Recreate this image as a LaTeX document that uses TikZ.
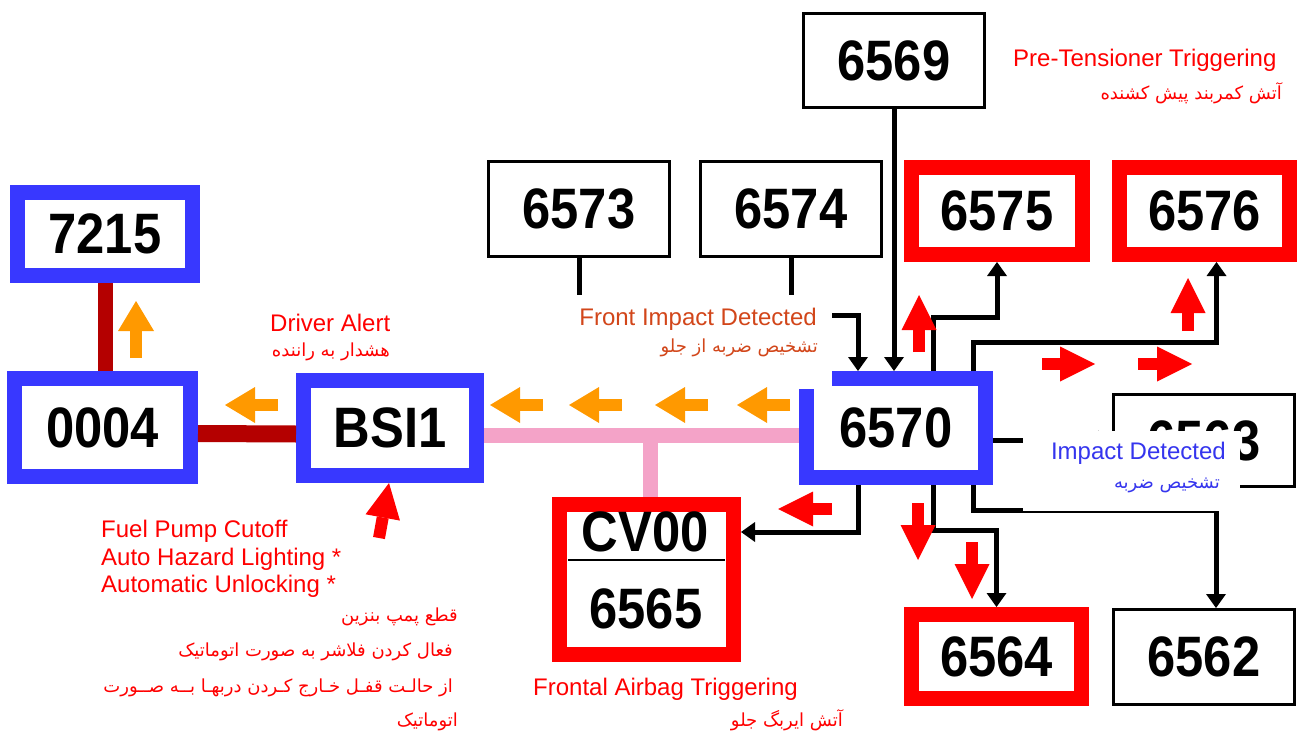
\documentclass[tikz,border=0pt]{standalone}
\usepackage{fontspec}
\setmainfont{Liberation Sans}
\newfontfamily\digitfont[FakeStretch=0.89]{Liberation Sans}
\newfontfamily\farsifont[Script=Arabic]{DejaVu Sans}
\TeXXeTstate=1
\usetikzlibrary{arrows.meta,positioning}
\definecolor{BoxBlue}{HTML}{3838FF}
\definecolor{BoxRed}{HTML}{FF0000}
\definecolor{DarkRed}{HTML}{B40000}
\definecolor{BusPink}{HTML}{F4A3C8}
\definecolor{ArrowOrange}{HTML}{FF9900}
\definecolor{ArrowRed}{HTML}{FF0000}
\definecolor{LabelRust}{HTML}{D2461A}
\definecolor{LabelBlue}{HTML}{3535EE}
\definecolor{TextRed}{HTML}{FF0000}
\tikzset{
  unit/.style={
    rectangle, fill=white, inner sep=0pt,
    font=\digitfont\bfseries\fontsize{57}{60}\selectfont
  },
  bluebox/.style={unit, draw=BoxBlue, line width=15pt},
  redbox/.style={unit, draw=BoxRed, line width=15pt},
  plainbox/.style={unit, draw=black, line width=3pt},
  bus/.style={line width=15pt},
  link/.style={draw=black, line width=5pt, -{Triangle[length=14pt,width=20pt,line width=0pt]}},
  stub/.style={draw=black, line width=5pt},
  mask/.style={rectangle, fill=white, inner sep=0pt},
  orangearrow/.style={draw=ArrowOrange, line width=12pt, -{Triangle[length=30pt,width=36pt,line width=0pt]}},
  redarrow/.style={draw=ArrowRed, line width=12pt, -{Triangle[length=35pt,width=35pt,line width=0pt]}},
  engtext/.style={inner sep=0pt, font=\fontsize{24}{27.5}\selectfont},
  fatext/.style={inner sep=0pt, font=\farsifont\fontsize{18}{21}\selectfont}
}
\begin{document}
\begin{tikzpicture}[x=1pt,y=-1pt]
  \useasboundingbox (0,0) rectangle (1301,733);
  \fill[white] (0,0) rectangle (1301,733);
  % modules
  \node[bluebox, minimum width=175pt, minimum height=83pt] (n7215) at (105,234) {7215};
  \node[bluebox, minimum width=176pt, minimum height=98pt] (n0004) at (102.5,427.5) {0004};
  \node[bluebox, minimum width=173pt, minimum height=95pt] (nBSI) at (390,428) {BSI1};
  \node[bluebox, minimum width=179pt, minimum height=99pt] (n6570) at (896,428) {6570};
  \node[plainbox, minimum width=181pt, minimum height=94pt] (n6569) at (894,60.5) {6569};
  \node[plainbox, minimum width=181pt, minimum height=95pt] (n6573) at (579,209) {6573};
  \node[plainbox, minimum width=181pt, minimum height=95pt] (n6574) at (791,209) {6574};
  \node[redbox, minimum width=171pt, minimum height=87pt] (n6575) at (997,211) {6575};
  \node[redbox, minimum width=170pt, minimum height=87pt] (n6576) at (1204.5,211) {6576};
  \node[plainbox, minimum width=181pt, minimum height=92pt] (n6563) at (1204,440.5) {6563};
  \node[redbox, minimum width=170pt, minimum height=84pt] (n6564) at (996.5,656.5) {6564};
  \node[plainbox, minimum width=181pt, minimum height=95pt] (n6562) at (1204,657) {6562};
  \node[redbox, minimum width=174pt, minimum height=150pt] (cvbox) at (646.5,579.5) {};
  \node[unit, fill=none] (cv00) at (645,532) {CV00};
  \node[unit, fill=none] (n6565) at (646,609) {6565};
  \draw[line width=2pt] (568,560) -- (725,560);
  % buses
  \draw[bus, draw=DarkRed] (n7215.south) -- (n7215.south |- n0004.north);
  \draw[bus, draw=DarkRed, line width=17pt] ([yshift=-6pt]n0004.east) -- ([yshift=-6pt]nBSI.west);
  \draw[bus, draw=BusPink] ([yshift=-7pt]nBSI.east) -- ([yshift=-7pt]n6570.west);
  \draw[bus, draw=BusPink] ([xshift=4pt]cvbox.north) -- ([xshift=4pt]cvbox.north |- n6570.west);
  % wires
  \draw[link] (n6569.south) -- (n6569.south |- n6570.north);
  \draw[stub] (n6573.south) -- ++(0,45);
  \draw[link] (n6574.south) |- ([xshift=-38pt,yshift=56pt]n6570.north) -- ([xshift=-38pt]n6570.north);
  \draw[link] ([xshift=37pt]n6570.north) |- ([yshift=-55pt]n6575.south) -- (n6575.south);
  \draw[link] ([xshift=77pt]n6570.north) |- ([xshift=12pt,yshift=-80pt]n6576.south) -- ([xshift=12pt]n6576.south);
  \draw[link] (n6563.west -| n6570.east) -- (n6563.west);
  \draw[link] ([xshift=77pt]n6570.south) |- ([xshift=12pt,yshift=98pt]n6562.north) -- ([xshift=12pt]n6562.north);
  \draw[link] ([xshift=37pt]n6570.south) |- ([yshift=77pt]n6564.north) -- (n6564.north);
  \draw[link] ([xshift=-38pt]n6570.south) |- ([yshift=-35pt]cvbox.north east);
  % label backgrounds
  \node[mask, minimum width=267pt, minimum height=94pt] (maskFront) at (698.5,342) {};
  \node[mask, minimum width=217pt, minimum height=80pt] (maskImpact) at (1131.5,471) {};
  % signal arrows
  \foreach \xa in {278,543,622,708,790}
    \draw[orangearrow] (\xa,405) -- ++(-53,0);
  \draw[orangearrow] (136,358) -- (136,301);
  \draw[redarrow] (919,352) -- (919,295);
  \draw[redarrow] (1188,331) -- (1188,278);
  \draw[redarrow] (1042,364) -- (1095,364);
  \draw[redarrow] (1138,364) -- (1192,364);
  \draw[redarrow] (832,509) -- (778,509);
  \draw[redarrow] (918,503) -- (918,560);
  \draw[redarrow] (972,542) -- (972,599);
  \draw[redarrow] (379,538) -- ([xshift=-1pt]nBSI.south);
  % labels
  \node[engtext, text=TextRed, anchor=base west] (lblPre) at (1013,67) {Pre-Tensioner Triggering};
  \node[fatext, text=TextRed, anchor=east] (lblPreFa) at (1282,93) {\beginR آتش کمربند پیش کشنده\endR};
  \node[engtext, text=LabelRust, anchor=base east] (lblFront) at (817,325) {Front Impact Detected};
  \node[fatext, text=LabelRust, anchor=east] (lblFrontFa) at (818,348) {\beginR تشخیص ضربه از جلو\endR};
  \node[engtext, text=LabelBlue, anchor=base east] (lblImpact) at (1226,459) {Impact Detected};
  \node[fatext, text=LabelBlue, anchor=east] (lblImpactFa) at (1220,485) {\beginR تشخیص ضربه\endR};
  \node[engtext, text=TextRed, anchor=base west] (lblDriver) at (270,331) {Driver Alert};
  \node[fatext, text=TextRed, anchor=east] (lblDriverFa) at (390,352) {\beginR هشدار به راننده\endR};
  \node[engtext, text=TextRed, align=left, anchor=north west] (lblBsi) at (101,520)
    {Fuel Pump Cutoff\\Auto Hazard Lighting *\\Automatic Unlocking *};
  \node[fatext, text=TextRed, anchor=east] (lblBsiFa1) at (458,617) {\beginR قطع پمپ بنزین\endR};
  \node[fatext, text=TextRed, anchor=east] (lblBsiFa2) at (453,652) {\beginR فعال کردن فلاشر به صورت اتوماتیک\endR};
  \node[fatext, text=TextRed, anchor=east] (lblBsiFa3) at (453,688) {\beginR از حالـت قفـل خـارج کـردن دربهـا بــه صــورت\endR};
  \node[fatext, text=TextRed, anchor=east] (lblBsiFa4) at (458,722) {\beginR اتوماتیک\endR};
  \node[engtext, text=TextRed, anchor=base west] (lblAirbag) at (533,695) {Frontal Airbag Triggering};
  \node[fatext, text=TextRed, anchor=east] (lblAirbagFa) at (843,720) {\beginR آتش ایربگ جلو\endR};
\end{tikzpicture}
\end{document}
